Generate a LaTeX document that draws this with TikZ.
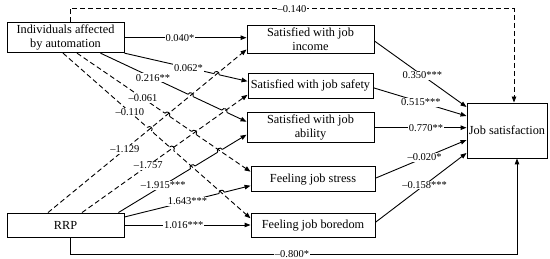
\documentclass[tikz,border=0pt]{standalone}
\usepackage{fontspec}
\setmainfont{Liberation Serif}
\usetikzlibrary{arrows.meta,calc,intersections}
\newcommand\hopmark[3]{%
  \coordinate (hs) at ($(#1)!2.7pt!(#2)$);
  \coordinate (he) at ($(#1)!2.7pt!(#3)$);
  \draw[white,line width=2.6pt] (hs) -- (he);
  \draw[line width=0.9pt] (hs) .. controls ($(hs)!3.6pt!90:(#1)$) and ($(he)!3.6pt!-90:(#1)$) .. (he);
}
\begin{document}
\begin{tikzpicture}[x=1pt,y=-1pt,
 box/.style={draw,line width=0.9pt,inner sep=0pt,align=center,font=\fontsize{12.3pt}{14pt}\selectfont},
 lab/.style={fill=white,inner sep=0.8pt,font=\fontsize{10.5pt}{13pt}\selectfont},
 conn/.style={line width=0.9pt,-{Triangle[length=6pt,width=4.5pt]}},
 dconn/.style={conn,dash pattern=on 5pt off 3pt}]
\useasboundingbox (0,0) rectangle (550,259);
\node[box,minimum width=117pt,minimum height=30pt] (ind) at (65.5,37.7) {Individuals affected\\by automation};
\node[box,minimum width=117pt,minimum height=24pt] (rrp) at (65.5,225) {RRP};
\node[box,minimum width=127pt,minimum height=27.5pt] (inc) at (310.5,39.5) {Satisfied with job\\income};
\node[box,minimum width=125pt,minimum height=25pt] (saf) at (310.5,85.8) {Satisfied with job safety};
\node[box,minimum width=127pt,minimum height=30pt] (abi) at (310.5,127.7) {Satisfied with job\\ability};
\node[box,minimum width=124pt,minimum height=25pt] (str) at (313,179.2) {Feeling job stress};
\node[box,minimum width=124pt,minimum height=24pt] (bor) at (313,225.3) {Feeling job boredom};
\node[box,minimum width=80pt,minimum height=55pt] (js) at (507,130.5) {Job satisfaction};
% path definitions (for crossings and label positions)
\path[name path=pI2] (ind.south east) -- coordinate[pos=0.52] (c2) ([yshift=4.5pt]saf.west);
\path[name path=pI3] ([xshift=-24pt]ind.south east) -- coordinate[pos=0.36] (c3) ([yshift=6pt]abi.west);
\path[name path=pI4] ([xshift=11.5pt]ind.south) -- coordinate[pos=0.38] (c4) ([yshift=7.5pt]str.west);
\path[name path=pI5] ([xshift=-2.5pt]ind.south) -- coordinate[pos=0.356] (c5) ([yshift=7pt]bor.west);
\path[name path=pR1] ([xshift=-17.5pt]rrp.north) -- coordinate[pos=0.387] (c6) ([yshift=-10pt]inc.west);
\path[name path=pR2] ([xshift=16.5pt]rrp.north) -- coordinate[pos=0.40] (c7) ([yshift=-9pt]saf.west);
\path[name path=pR3] ([xshift=-6pt]rrp.north east) -- coordinate[pos=0.35] (c8) ([yshift=-7pt]abi.west);
\path[name path=pR4] ([yshift=8pt]rrp.east) -- coordinate[pos=0.5] (c9) ([yshift=-6.5pt]str.west);
% solid RRP lines hop over dashed lines
\draw[conn] ([xshift=-6pt]rrp.north east) -- ([yshift=-7pt]abi.west);
\draw[conn] ([yshift=8pt]rrp.east) -- ([yshift=-6.5pt]str.west);
\path[name intersections={of=pR3 and pI4, by=x1}];
\hopmark{x1}{[xshift=-6pt]rrp.north east}{[yshift=-7pt]abi.west}
\path[name intersections={of=pR3 and pI5, by=x2}];
\hopmark{x2}{[xshift=-6pt]rrp.north east}{[yshift=-7pt]abi.west}
\path[name intersections={of=pR4 and pI5, by=x3}];
\hopmark{x3}{[yshift=8pt]rrp.east}{[yshift=-6.5pt]str.west}
% solid lines from individuals
\draw[conn] (ind.south east) -- ([yshift=4.5pt]saf.west);
\draw[conn] ([xshift=-24pt]ind.south east) -- ([yshift=6pt]abi.west);
\path[name intersections={of=pI2 and pR1, by=x4}];
\hopmark{x4}{ind.south east}{[yshift=4.5pt]saf.west}
\path[name intersections={of=pI3 and pR1, by=x5}];
\hopmark{x5}{[xshift=-24pt]ind.south east}{[yshift=6pt]abi.west}
\path[name intersections={of=pI3 and pR2, by=x6}];
\hopmark{x6}{[xshift=-24pt]ind.south east}{[yshift=6pt]abi.west}
% dashed lines from individuals
\draw[dconn] ([xshift=11.5pt]ind.south) -- ([yshift=7.5pt]str.west);
\draw[dconn] ([xshift=-2.5pt]ind.south) -- ([yshift=7pt]bor.west);
\path[name intersections={of=pI4 and pR1, by=x7}];
\hopmark{x7}{[xshift=11.5pt]ind.south}{[yshift=7.5pt]str.west}
\path[name intersections={of=pI4 and pR2, by=x8}];
\hopmark{x8}{[xshift=11.5pt]ind.south}{[yshift=7.5pt]str.west}
\path[name intersections={of=pI5 and pR1, by=x9}];
\hopmark{x9}{[xshift=-2.5pt]ind.south}{[yshift=7pt]bor.west}
\path[name intersections={of=pI5 and pR2, by=x10}];
\hopmark{x10}{[xshift=-2.5pt]ind.south}{[yshift=7pt]bor.west}
% dashed lines from RRP
\draw[dconn] ([xshift=-17.5pt]rrp.north) -- ([yshift=-10pt]inc.west);
\draw[dconn] ([xshift=16.5pt]rrp.north) -- ([yshift=-9pt]saf.west);
% remaining straight connectors
\draw[conn] (ind.east) -- coordinate[pos=0.455] (c1) (ind.east -| inc.west);
\draw[conn] (rrp.east) -- coordinate[pos=0.47] (c10) (rrp.east -| bor.west);
\draw[conn] ([yshift=-1.5pt]inc.east) -- coordinate[pos=0.52] (c11) ([yshift=23.5pt]js.west);
\draw[conn] ([yshift=-2pt]saf.east) -- coordinate[pos=0.51] (c12) ([yshift=14.5pt]js.west);
\draw[conn] (abi.east) -- coordinate[pos=0.56] (c13) (abi.east -| js.west);
\draw[conn] ([yshift=1pt]str.east) -- coordinate[pos=0.54] (c14) ([yshift=-9.5pt]js.west);
\draw[conn] ([yshift=3pt]bor.east) -- coordinate[pos=0.54] (c15) ([yshift=-22.5pt]js.west);
% direct effects
\draw[dconn] ([xshift=4.5pt]ind.north) -- ++(0,13.7pt) coordinate (t1) -- ([xshift=7pt]js.north |- t1) -- ([xshift=7pt]js.north);
\draw[conn] ([xshift=4.5pt]rrp.south) -- ++(0,-17pt) coordinate (b1) -- ([xshift=10pt]js.south |- b1) -- ([xshift=10pt]js.south);
% labels
\node[lab] (l1) at (c1) {0.040*};
\node[lab] (l2) at (c2) {0.062*};
\node[lab] (l3) at (c3) {0.216**};
\node[lab] (l4) at (c4) {–0.061};
\node[lab] (l5) at (c5) {–0.110};
\node[lab] (l6) at (c6) {–1.129};
\node[lab] (l7) at (c7) {–1.757};
\node[lab] (l8) at (c8) {–1.915***};
\node[lab] (l9) at (c9) {1.643***};
\node[lab] (l10) at (c10) {1.016***};
\node[lab] (l11) at (c11) {0.350***};
\node[lab] (l12) at (c12) {0.515***};
\node[lab] (l13) at (c13) {0.770**};
\node[lab] (l14) at (c14) {–0.020*};
\node[lab] (l15) at (c15) {–0.158***};
\node[lab] (l16) at (292,9) {–0.140};
\node[lab] (l17) at (292,254) {–0.800*};
\end{tikzpicture}
\end{document}
